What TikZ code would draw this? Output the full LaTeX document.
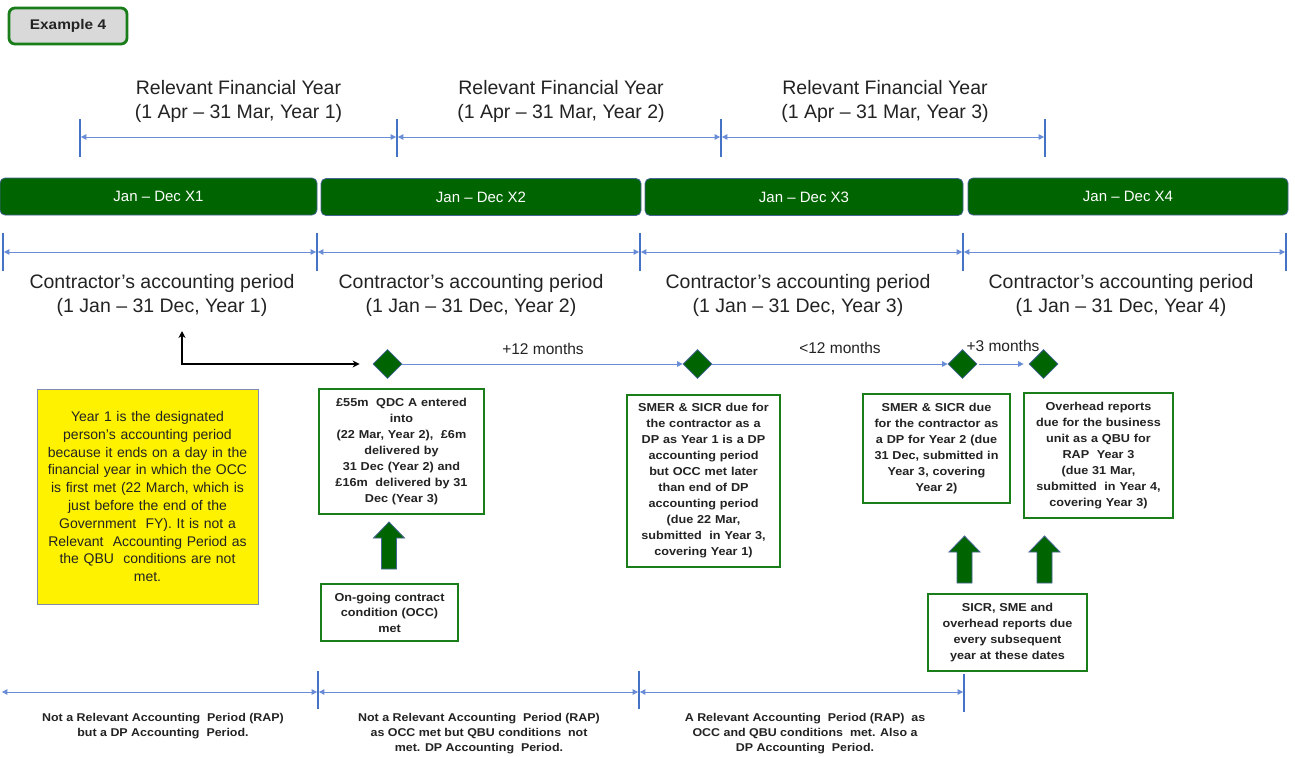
\documentclass[tikz,border=0pt]{standalone}
\usepackage{fontspec}
\setmainfont{Liberation Sans}
\newfontfamily\widefont{Liberation Sans}[FakeStretch=1.1]
\usetikzlibrary{arrows.meta,shapes.geometric}
\definecolor{dkgreen}{RGB}{0,100,0}
\definecolor{bxgreen}{RGB}{25,125,25}
\definecolor{lnblue}{RGB}{105,140,215}
\definecolor{tkblue}{RGB}{68,114,196}
\definecolor{bdblue}{RGB}{70,100,150}
\definecolor{txtgray}{RGB}{35,35,35}
\definecolor{exgray}{RGB}{217,217,217}
\definecolor{yelbd}{RGB}{125,140,175}
\tikzset{
  bluln/.style={draw=lnblue, line width=1pt, shorten <=0.9pt, shorten >=0.9pt,
    {Triangle[length=5.5pt,width=5.5pt]}-{Triangle[length=5.5pt,width=5.5pt]}},
  bluone/.style={draw=lnblue, line width=1pt, -{Triangle[length=5.5pt,width=5.5pt]}},
  tickln/.style={draw=tkblue, line width=1.8pt},
  toptext/.style={align=center, text=txtgray, font=\fontsize{19.5}{24}\selectfont, inner sep=0pt},
  bartext/.style={rounded corners=5pt, fill=dkgreen, draw=bdblue, line width=0.8pt,
    minimum height=37pt, text=white, font=\fontsize{15}{18}\selectfont, inner sep=0pt},
  exbox/.style={rounded corners=6pt, fill=exgray, draw=bxgreen, line width=2.8pt,
    minimum width=118pt, minimum height=36pt, inner sep=0pt, text=txtgray,
    font=\widefont\bfseries\fontsize{14}{16}\selectfont},
  dmd/.style={diamond, fill=dkgreen, draw=bdblue, line width=0.8pt, minimum width=29pt,
    minimum height=29pt, inner sep=0pt},
  mtext/.style={text=txtgray, font=\fontsize{15.5}{18}\selectfont, inner sep=0pt},
  infobox/.style={draw=bxgreen, line width=2pt, fill=white, align=center, inner sep=0pt,
    text=txtgray, font=\widefont\bfseries\fontsize{11.5}{16}\selectfont},
  yelbox/.style={draw=yelbd, line width=1pt, fill=yellow, align=center, inner sep=0pt,
    text=txtgray, font=\fontsize{14}{17.8}\selectfont},
  bottext/.style={align=center, text=txtgray, inner sep=0pt,
    font=\widefont\bfseries\fontsize{11.3}{15}\selectfont},
  blkarr/.style={draw=black, line width=2.2pt, {Stealth[length=7pt,width=7pt]}-{Stealth[length=7pt,width=7pt]}},
  uparr/.pic={\path[draw=bdblue, fill=dkgreen, line width=0.8pt]
    (-7.5,0) -- (-7.5,-31) -- (-15.5,-31) -- (0,-47) -- (15.5,-31) -- (7.5,-31) -- (7.5,0) -- cycle;}
}
\begin{document}
\begin{tikzpicture}[x=1pt,y=-1pt]
\useasboundingbox (0,0) rectangle (1295,756);
\fill[white] (0,0) rectangle (1295,756);

% Example label
\node[exbox] (ex) at (68,26) {Example 4};

% Relevant financial years
\node[toptext] (fy1) at (238.5,101.5) {Relevant Financial Year\\(1 Apr – 31 Mar, Year 1)};
\node[toptext] (fy2) at (561,101.5) {Relevant Financial Year\\(1 Apr – 31 Mar, Year 2)};
\node[toptext] (fy3) at (885,101.5) {Relevant Financial Year\\(1 Apr – 31 Mar, Year 3)};
\coordinate (fa) at (80,137);
\coordinate (fb) at (397,137);
\coordinate (fc) at (721,137);
\coordinate (fd) at (1045,137);
\foreach \c in {80,397,721,1045}{\draw[tickln] (\c,119) -- (\c,157);}
\draw[bluln] (fa) -- (fb);
\draw[bluln] (fb) -- (fc);
\draw[bluln] (fc) -- (fd);

% Calendar bars
\node[bartext, minimum width=317pt] (b1) at (158.5,196.5) {Jan – Dec X1};
\node[bartext, minimum width=320pt] (b2) at (481,197) {Jan – Dec X2};
\node[bartext, minimum width=318pt] (b3) at (804,197) {Jan – Dec X3};
\node[bartext, minimum width=320pt] (b4) at (1128,196.5) {Jan – Dec X4};

% Contractor accounting periods
\coordinate (ca) at (3,252);
\coordinate (cb) at (317,252);
\coordinate (cc) at (640,252);
\coordinate (cd) at (963,252);
\coordinate (ce) at (1286,252);
\foreach \c in {3,317,640,963,1286}{\draw[tickln] (\c,233) -- (\c,271);}
\draw[bluln] (ca) -- (cb);
\draw[bluln] (cb) -- (cc);
\draw[bluln] (cc) -- (cd);
\draw[bluln] (cd) -- (ce);
\node[toptext] (cp1) at (162,295) {Contractor’s accounting period\\(1 Jan – 31 Dec, Year 1)};
\node[toptext] (cp2) at (471,295) {Contractor’s accounting period\\(1 Jan – 31 Dec, Year 2)};
\node[toptext] (cp3) at (798,295) {Contractor’s accounting period\\(1 Jan – 31 Dec, Year 3)};
\node[toptext] (cp4) at (1121,295) {Contractor’s accounting period\\(1 Jan – 31 Dec, Year 4)};

% Diamonds and timeline
\node[dmd] (d1) at (387.5,364) {};
\node[dmd] (d2) at (697.5,364) {};
\node[dmd] (d3) at (962.5,364) {};
\node[dmd] (d4) at (1043.5,364) {};
\draw[bluone] (d1.east) -- (d2.west);
\draw[bluone] (d2.east) -- (d3.west);
\draw[bluone, shorten <=2pt, shorten >=5pt] (d3.east) -- (d4.west);
\node[mtext] (m1) at (543,349) {+12 months};
\node[mtext] (m2) at (840,348) {<12 months};
\node[mtext] (m3) at (1003,346) {+3 months};

% Black elbow arrow
\coordinate (e0) at (182,331);
\draw[blkarr, shorten >=13pt] (e0) |- (d1.west);

% Yellow note
\node[yelbox, minimum width=221pt, minimum height=215pt, text width=215pt] (yel) at (147.5,496.5)
 {Year 1 is the designated\\person’s accounting period\\because it ends on a day in the\\financial year in which the OCC\\is first met (22 March, which is\\just before the end of the\\Government\ \ FY). It is not a\\Relevant\ \ Accounting Period as\\the QBU\ \ conditions are not\\met.};

% Info boxes
\node[infobox, minimum width=165pt, minimum height=125pt, text width=160pt] (ba) at (401.5,451.5)
 {£55m\ \ QDC A entered\\into\\(22 Mar, Year 2),\ \ £6m\\delivered by\\31 Dec (Year 2) and\\£16m\ \ delivered by 31\\Dec (Year 3)};
\node[infobox, minimum width=153pt, minimum height=172pt, text width=148pt] (bbx) at (703.5,480.5)
 {SMER \& SICR due for\\the contractor as a\\DP as Year 1 is a DP\\accounting period\\but OCC met later\\than end of DP\\accounting period\\(due 22 Mar,\\submitted\ \ in Year 3,\\covering Year 1)};
\node[infobox, minimum width=147pt, minimum height=109pt, text width=142pt] (bcx) at (936.5,448.5)
 {SMER \& SICR due\\for the contractor as\\a DP for Year 2 (due\\31 Dec, submitted in\\Year 3, covering\\Year 2)};
\node[infobox, minimum width=149pt, minimum height=125pt, text width=144pt] (bdx) at (1098.5,455.5)
 {Overhead reports\\due for the business\\unit as a QBU for\\RAP\ \ Year 3\\(due 31 Mar,\\submitted\ \ in Year 4,\\covering Year 3)};
\node[infobox, minimum width=137pt, minimum height=57pt, text width=132pt, font=\widefont\bfseries\fontsize{11.5}{15.5}\selectfont] (occ) at (389.5,612.5)
 {On-going contract\\condition (OCC)\\met};
\node[infobox, minimum width=159pt, minimum height=77pt, text width=154pt, font=\widefont\bfseries\fontsize{11.5}{16.3}\selectfont] (sicr) at (1007.5,632.5)
 {SICR, SME and\\overhead reports due\\every subsequent\\year at these dates};

% Big green up arrows
\pic at (389,569) {uparr};
\pic at (964.5,583) {uparr};
\pic at (1044.5,583) {uparr};

% Bottom periods
\coordinate (pa) at (1,692);
\coordinate (pb) at (318,692);
\coordinate (pc) at (639,692);
\coordinate (pd) at (964,692);
\draw[tickln] (318,671) -- (318,709);
\draw[tickln] (639,671) -- (639,709);
\draw[tickln] (964,674) -- (964,712);
\draw[bluln] (pa) -- (pb);
\draw[bluln] (pb) -- (pc);
\draw[bluln] (pc) -- (pd);
\node[bottext] (t1) at (163,726) {Not a Relevant Accounting\ \ Period (RAP)\\but a DP Accounting\ \ Period.};
\node[bottext] (t2) at (479,733.5) {Not a Relevant Accounting\ \ Period (RAP)\\as OCC met but QBU conditions\ \ not\\met. DP Accounting\ \ Period.};
\node[bottext] (t3) at (805,733.5) {A Relevant Accounting\ \ Period (RAP)\ \ as\\OCC and QBU conditions\ \ met. Also a\\DP Accounting\ \ Period.};
\end{tikzpicture}
\end{document}
